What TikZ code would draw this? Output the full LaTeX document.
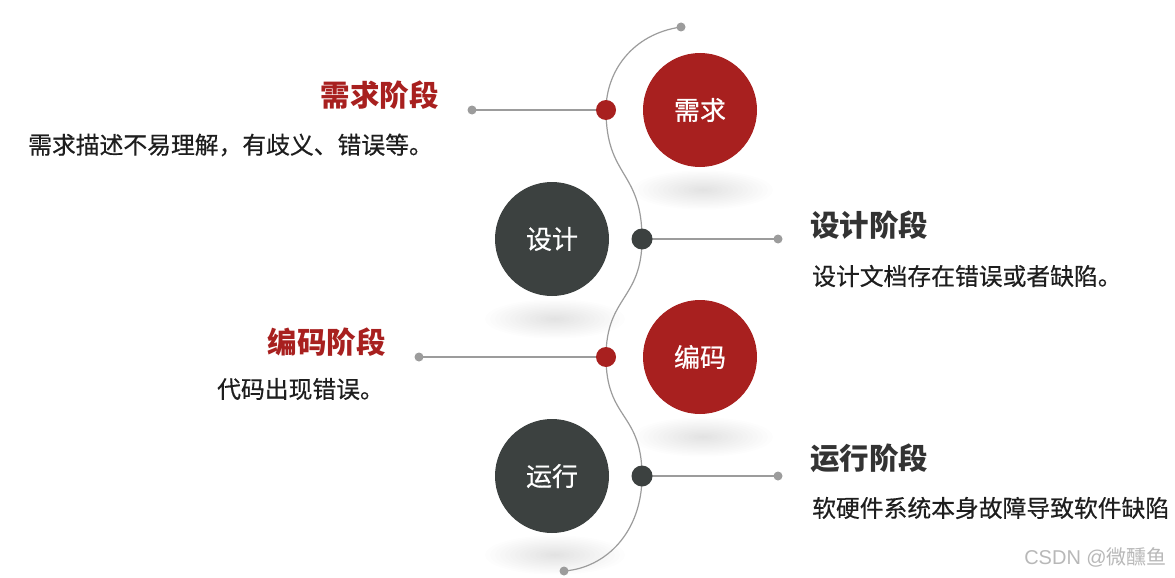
\documentclass[tikz,border=0pt]{standalone}
\usepackage{fontspec}
\newfontfamily\cjk{Noto Sans CJK SC}
\newfontfamily\cjkm[FakeBold=0.5]{Noto Sans CJK SC}
\setsansfont{Liberation Sans}
\begin{document}
\begin{tikzpicture}[x=1pt,y=-1pt,
  redc/.style={circle,fill=cred,minimum size=114pt,inner sep=0,text=white,font=\cjkm\fontsize{26}{26}\selectfont},
  darkc/.style={circle,fill=cdark,minimum size=114pt,inner sep=0,text=white,font=\cjkm\fontsize{26}{26}\selectfont},
  reddot/.style={circle,fill=cred,minimum size=20pt,inner sep=0},
  darkdot/.style={circle,fill=cdark,minimum size=21pt,inner sep=0},
  enddot/.style={circle,fill=cgray,minimum size=9pt,inner sep=0},
  conn/.style={draw=cgray,line width=1.4pt},
  title/.style={inner sep=0,font=\cjk\bfseries\fontsize{29.5}{30}\selectfont},
  desc/.style={inner sep=0,anchor=west,text=ctext,font=\cjkm\fontsize{23.8}{24}\selectfont}
]
\definecolor{cred}{HTML}{A8201F}
\definecolor{cdark}{HTML}{3C4140}
\definecolor{cgray}{HTML}{9C9C9C}
\definecolor{ctext}{HTML}{1E1E1E}
\definecolor{ctitle}{HTML}{333333}
\useasboundingbox (0,0) rectangle (1175,578);
\fill[white] (0,0) rectangle (1175,578);
% soft shadows
\foreach \cx/\cy in {703/190, 555/319, 703/437, 555/555}{
  \foreach \i in {1,...,14}{
    \pgfmathsetmacro{\rx}{5*\i}
    \pgfmathsetmacro{\ry}{1.4*\i}
    \fill[black,opacity=0.009] (\cx,\cy) ellipse [x radius=\rx pt, y radius=\ry pt];
  }
}
% big circles
\node[redc]  (c1) at (700,110) {需求};
\node[darkc] (c2) at (552,239) {设计};
\node[redc]  (c3) at (700,357) {编码};
\node[darkc] (c4) at (552,476) {运行};
% end dots
\node[enddot] (top) at (681,27) {};
\node[enddot] (bot) at (564,571) {};
\node[enddot] (e1) at (472,110) {};
\node[enddot] (e2) at (778,239) {};
\node[enddot] (e3) at (419,357) {};
\node[enddot] (e4) at (778,476) {};
% timeline points (coordinates for the curve)
\coordinate (p1) at (606,110);
\coordinate (p2) at (642,239);
\coordinate (p3) at (606,357);
\coordinate (p4) at (642,476);
\draw[draw=cgray,line width=1.2pt] (top.center) .. controls (632,34) and (606,72) .. (p1)
  .. controls (606,178) and (642,170) .. (p2)
  .. controls (642,300) and (606,296) .. (p3)
  .. controls (606,420) and (642,412) .. (p4)
  .. controls (642,532) and (606,568) .. (bot.center);
\draw[conn] (e1.center) -- (p1);
\draw[conn] (e2.center) -- (p2);
\draw[conn] (e3.center) -- (p3);
\draw[conn] (e4.center) -- (p4);
\node[reddot]  (d1) at (p1) {};
\node[darkdot] (d2) at (p2) {};
\node[reddot]  (d3) at (p3) {};
\node[darkdot] (d4) at (p4) {};
% texts
\node[title,anchor=east,text=cred] (t1) at (439,95) {需求阶段};
\node[desc] (s1) at (28,145) {需求描述不易理解，有歧义、错误等。};
\node[title,anchor=west,text=ctitle] (t2) at (810,225) {设计阶段};
\node[desc] (s2) at (812,276) {设计文档存在错误或者缺陷。};
\node[title,anchor=east,text=cred] (t3) at (386,342) {编码阶段};
\node[desc] (s3) at (217,389) {代码出现错误。};
\node[title,anchor=west,text=ctitle] (t4) at (810,458) {运行阶段};
\node[desc] (s4) at (812,508) {软硬件系统本身故障导致软件缺陷};
\node[inner sep=0,anchor=east,text=black!28,font=\cjk\fontsize{20}{20}\selectfont] (wm) at (1167,557) {\sffamily CSDN @\cjk 微醺鱼};
\end{tikzpicture}
\end{document}
